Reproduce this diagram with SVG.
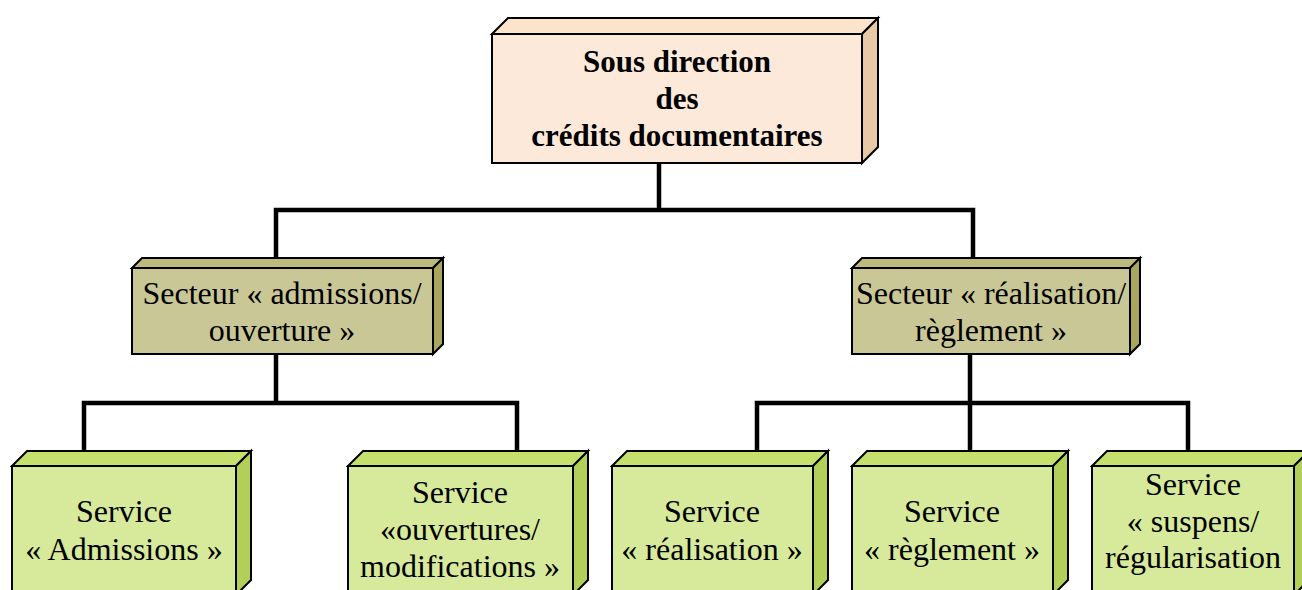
<svg xmlns="http://www.w3.org/2000/svg" width="1302" height="590" viewBox="0 0 1302 590">
<style>
.t{font-family:"Liberation Serif","Times New Roman",serif;font-size:32px;fill:#000;text-anchor:middle}
.b{font-weight:bold;font-size:31px}
.o{stroke:#000;stroke-width:2;stroke-linejoin:miter}
.c{stroke:#000;stroke-width:4.5;fill:none;stroke-linecap:square}
.pf{fill:#FDE9D9}.pt{fill:#FBE3CC}.ps{fill:#E8C9A6}
.of{fill:#C9C796}.ot{fill:#BDBA7E}.os{fill:#A9A65F}
.gf{fill:#D7E99A}.gt{fill:#C5E06C}.gs{fill:#B2CF5A}
</style>
<rect width="1302" height="590" fill="#fff"/>
<g id="connectors">
<path class="c" d="M659,163V210M276,210H973M276,210V262M973,210V262"/>
<path class="c" d="M276,354V403M84,403H517M84,403V452M517,403V452"/>
<path class="c" d="M970,354V403M757,403H1188M757,403V452M970,403V452M1188,403V452"/>
</g>
<g id="n-top">
<polygon class="o pt" points="492,34 508,18 878,18 862,34"/>
<polygon class="o ps" points="862,34 878,18 878,147 862,163"/>
<rect class="o pf" x="492" y="34" width="370" height="129"/>
<text class="t b" x="677" y="72">Sous direction</text>
<text class="t b" x="677" y="109">des</text>
<text class="t b" x="677" y="146">crédits documentaires</text>
</g>
<g id="n-sect1">
<polygon class="o ot" points="132,268 142,258 443,258 433,268"/>
<polygon class="o os" points="433,268 443,258 443,344 433,354"/>
<rect class="o of" x="132" y="268" width="301" height="86"/>
<text class="t" x="282" y="304">Secteur « admissions/</text>
<text class="t" x="282" y="341">ouverture »</text>
</g>
<g id="n-sect2">
<polygon class="o ot" points="852,268 862,258 1140,258 1130,268"/>
<polygon class="o os" points="1130,268 1140,258 1140,344 1130,354"/>
<rect class="o of" x="852" y="268" width="278" height="86"/>
<text class="t" x="991" y="304">Secteur « réalisation/</text>
<text class="t" x="991" y="341">règlement »</text>
</g>
<g id="n-s1">
<polygon class="o gt" points="12,466 27,451 251,451 236,466"/>
<polygon class="o gs" points="236,466 251,451 251,580 236,595"/>
<rect class="o gf" x="12" y="466" width="224" height="130"/>
<text class="t" x="124" y="522">Service</text>
<text class="t" x="124" y="560">« Admissions »</text>
</g>
<g id="n-s2">
<polygon class="o gt" points="348,466 363,451 588,451 573,466"/>
<polygon class="o gs" points="573,466 588,451 588,580 573,595"/>
<rect class="o gf" x="348" y="466" width="225" height="130"/>
<text class="t" x="460" y="503">Service</text>
<text class="t" x="460" y="540">«ouvertures/</text>
<text class="t" x="460" y="577">modifications »</text>
</g>
<g id="n-s3">
<polygon class="o gt" points="612,466 627,451 828,451 813,466"/>
<polygon class="o gs" points="813,466 828,451 828,580 813,595"/>
<rect class="o gf" x="612" y="466" width="201" height="130"/>
<text class="t" x="712" y="522">Service</text>
<text class="t" x="712" y="560">« réalisation »</text>
</g>
<g id="n-s4">
<polygon class="o gt" points="852,466 867,451 1068,451 1053,466"/>
<polygon class="o gs" points="1053,466 1068,451 1068,580 1053,595"/>
<rect class="o gf" x="852" y="466" width="201" height="130"/>
<text class="t" x="952" y="522">Service</text>
<text class="t" x="952" y="560">« règlement »</text>
</g>
<g id="n-s5">
<polygon class="o gt" points="1092,466 1107,451 1309,451 1294,466"/>
<polygon class="o gs" points="1294,466 1309,451 1309,580 1294,595"/>
<rect class="o gf" x="1092" y="466" width="202" height="130"/>
<text class="t" x="1193" y="495">Service</text>
<text class="t" x="1193" y="532">« suspens/</text>
<text class="t" x="1193" y="568">régularisation</text>
</g>
</svg>
